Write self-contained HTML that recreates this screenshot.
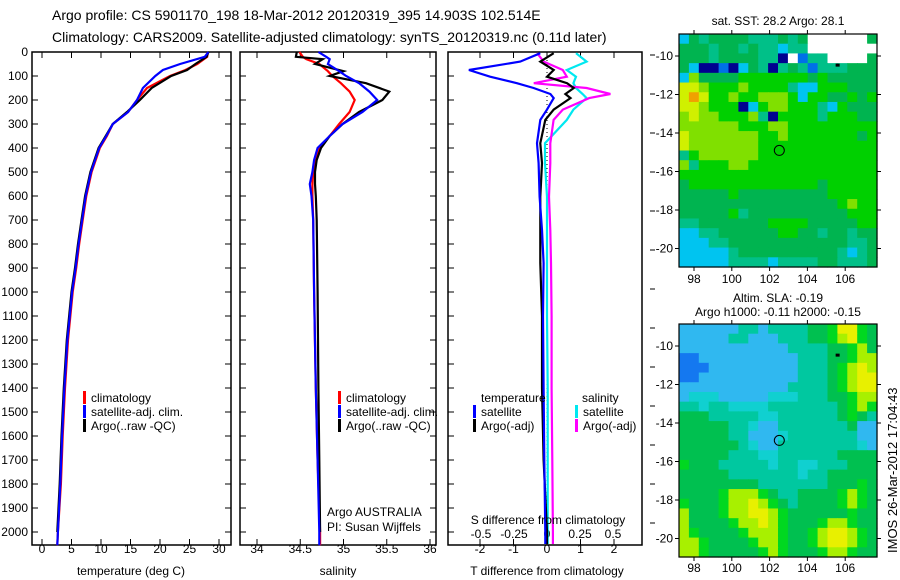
<!DOCTYPE html>
<html><head><meta charset="utf-8"><style>
html,body{margin:0;padding:0;background:#fff;}
svg{display:block;font-family:"Liberation Sans",sans-serif;}
</style></head><body>
<svg id="fig" width="900" height="580" viewBox="0 0 900 580" xmlns="http://www.w3.org/2000/svg">
<text x="52" y="20" font-size="14">Argo profile: CS 5901170_198 18-Mar-2012 20120319_395 14.903S 102.514E</text>
<text x="52" y="42" font-size="14">Climatology: CARS2009. Satellite-adjusted climatology: synTS_20120319.nc (0.11d later)</text>
</svg>
<script>
// ---------- data ----------
const tDepth = [0,20,50,75,100,150,200,250,300,350,400,500,600,700,800,900,1000,1200,1400,1600,1800,2000,2055];
const tClim  = [28.1,28.0,26.3,24.3,21.7,17.8,16.1,14.6,12.0,11.0,9.8,8.4,7.5,6.9,6.3,5.8,5.2,4.4,3.9,3.5,3.2,2.7,2.6];
const tSat   = [28.2,27.6,23.4,20.5,19.2,17.1,16.1,14.6,12.0,10.9,9.7,8.3,7.4,6.8,6.2,5.7,5.1,4.3,3.8,3.4,3.1,2.7,2.6];
const tArgo  = [28.2,27.9,26.0,24.6,21.9,18.6,16.6,14.4,12.0,10.8,9.6,8.2,7.3,6.7,6.1,5.6,5.0,4.2,3.7,3.3,3.0,2.6];
const sDepth = [0,20,30,50,80,100,130,165,200,250,300,350,400,450,500,550,600,700,1000,1400,1700,2000,2055];
const sClim  = [34.49,34.53,34.57,34.72,34.82,34.87,34.97,35.07,35.13,35.07,34.95,34.84,34.72,34.67,34.65,34.64,34.64,34.65,34.66,34.68,34.70,34.73,34.73];
const sSat   = [34.71,34.80,34.84,34.82,34.95,35.03,35.18,35.30,35.39,35.22,34.99,34.84,34.70,34.66,34.64,34.61,34.63,34.65,34.66,34.68,34.70,34.72,34.72];
const sArgo  = [34.46,34.45,34.76,34.67,35.00,34.84,35.26,35.53,35.45,35.18,34.99,34.84,34.74,34.69,34.67,34.67,34.68,34.69,34.70,34.71,34.72,34.73];
const dDepth = [5,40,75,103,130,150,175,192,240,283,380,463,603,742,880,1100,1400,1700,2000,2050];
const dTSat  = [-0.2,-0.8,-2.33,-1.7,-0.9,-0.4,0.1,0.2,0.0,-0.2,-0.3,-0.25,-0.22,-0.15,-0.1,-0.12,-0.1,-0.08,-0.05,-0.05];
const dTArgo = [0.2,-0.2,0.2,0.0,0.6,0.8,0.55,0.7,0.2,-0.05,-0.2,-0.15,-0.2,-0.2,-0.2,-0.15,-0.15,-0.1,0.0,0.0];
const dSSat  = [0.22,0.3,0.15,0.22,0.2,0.22,0.27,0.3,0.2,0.15,-0.015,-0.015,0.0,0.0,0.0,0.0,0.005,0.005,0.005,0.005];
const dSArgo = [-0.075,-0.025,0.12,0.15,-0.1,0.3,0.48,0.32,0.12,0.05,0.025,0.025,0.015,0.025,0.03,0.035,0.035,0.04,0.045,0.045];
const depthTicks = [0,100,200,300,400,500,600,700,800,900,1000,1100,1200,1300,1400,1500,1600,1700,1800,1900,2000];
const tTicks = [0,5,10,15,20,25,30];
const sTicks = [34,34.5,35,35.5,36];
const sTickLabels = ["34","34.5","35","35.5","36"];
const dTTicks = [-2,-1,0,1,2];
const dSTicks = [-0.5,-0.25,0,0.25,0.5];
const dSTickLabels = ["-0.5","-0.25","0","0.25","0.5"];
const lonTicks = [98,100,102,104,106];
const latTicks = [-10,-12,-14,-16,-18,-20];
const argoLon = 102.514, argoLat = -14.903;
const sstGrid = [
"CGTGGGGTTTGTGWWWWWWG","GGGTGGTGTTCTTWWWWWWW","GGGTGGGGTTNWBTTWWWWG","GCNNBNCGTNTGTBTTTGGG",
"CLGGGGgggggggGgGGGGG","YYLgggLggggTCCgggGGG","YOYggLggLLLgCggGGgGg","YYLgggNCgLLgggTCgGGG",
"LYLLgggLTNggggTgggGG","LLLLLLgggLLggggggggg","YLLLLLLLggLgggggggGg","YLLLLLLLgggggggggggg",
"TgLLLLLLgggggggggggg","LTgggLLggggggggggggg","gggggggggggggggggggg","GgggggggggggggGggggg",
"GGGGGgGGGGGGGGGggggg","GGGGGGGGGGGGGGGGgLgg","GGGGGgTGGGGGGGGGGggg","TTGGGGGGGggggGGGGGgg",
"CCTTGGGGGGggGGTGGTGG","CCCTTGGGGGGGGGGGGTTG","CCCCCTGGGGGGGGGGTCTG","CCCCCTTTTCTTTTGGTTTG"];
const slaGrid = [
"CCCCCCTTCTTTTGGgYYgG","CCCCCTTCCCTTTGGgLYgG","CCCCCCCCCCCTTTTGGgLG","aaCCCCCCCCCCTTTGGgLL",
"aaaCCCCCCCCCTTTGgLYL","aaCCCCCCCCCCTTTGgLYY","CCCCCCCCCCCTTTTGgLYY","CcccCCCCCcccTTTGGgLL",
"TTcTTccccTTTTTTTGgLg","GGGTTTTTccTTTTTTGgGT","GGGGGTTcCCTTTTTTTGCC","GGGGGTTCCCcTTTTTTTCC",
"GGGGGGTcCCTTTTTTTTcC","GGGGGTTTccTTTTTTGGGG","gGGGTTTTTcTTccTTTGGG","GGGGGTTTTTTTcTTGGGGG",
"GGGGGGGGTTTTTTTGGGgG","GGGGgLLLgGTTGGGGgLgG","gGGGgLLYLgGTGGGGgLgG","LGGGgLLYYLgGGGGGGgGG",
"LGGGGgLLYLgGGGgLLgGG","LgGGGGgLLLgGGgLYYLgG","LLgGGGGgLLgGGgLYYLgG","LLgGGGGGgLgGGGgLLgGG"];
const sstColors = {G:"#00b450",g:"#00d000",T:"#00c088",C:"#00c4f0",B:"#0070e8",N:"#000090",L:"#80e000",Y:"#d0f000",O:"#f0a000",W:"#ffffff"};
const slaColors = {a:"#1478f0",C:"#30b8f0",c:"#10d0d0",T:"#00c8a0",G:"#00c050",g:"#00d820",L:"#a8f000",Y:"#e8f000"};

// ---------- helpers ----------
const NS="http://www.w3.org/2000/svg";
const svg=document.getElementById('fig');
function mk(tag,attrs,parent){const e=document.createElementNS(NS,tag);for(const k in attrs)e.setAttribute(k,attrs[k]);(parent||svg).appendChild(e);return e;}
function txt(s,x,y,size,anchor,parent){const e=mk('text',{x:x,y:y,'font-size':size,'text-anchor':anchor||'start'},parent);e.textContent=s;return e;}
const yD = d => 52 + d*0.24;
const xT = t => 42 + t*5.9;
const xS = s => 257 + (s-34)*86.5;
const xDT = v => 547 + v*33.5;
const xDS = v => 547 + v*132;
const TOP=52, BOT=545;

function frame(x0,x1,name){
  const r=mk('rect',{x:x0,y:TOP,width:x1-x0,height:BOT-TOP,fill:'none',stroke:'#000','stroke-width':1.5});
  
  
}
function line(xs,ds,fx,color,name,w){
  const pts=xs.map((v,i)=>fx(v).toFixed(1)+','+yD(ds[i]).toFixed(1)).join(' ');
  const p=mk('polyline',{points:pts,fill:'none',stroke:color,'stroke-width':w||2.2,'stroke-linejoin':'miter'});
  
  
}
function xTicks(vals,labels,fx,ylab,name){
  const g=mk('g',{});
  
  
  vals.forEach((v,i)=>{const x=fx(v);
    mk('line',{x1:x,x2:x,y1:BOT,y2:BOT-6,stroke:'#000','stroke-width':1},g);
    mk('line',{x1:x,x2:x,y1:TOP,y2:TOP+6,stroke:'#000','stroke-width':1},g);
    if(ylab) txt(labels[i],x,ylab,12,'middle',g);
  });
}
function depthTickMarks(x0,x1){
  depthTicks.forEach(d=>{const y=yD(d);
    mk('line',{x1:x0,x2:x0+6,y1:y,y2:y,stroke:'#000','stroke-width':1});
    mk('line',{x1:x1,x2:x1-6,y1:y,y2:y,stroke:'#000','stroke-width':1});});
}
function legend(x,y,color,label,name){
  const g=mk('g',{});
  
  
  mk('rect',{x:x,y:y-11,width:3,height:13,fill:color},g);
  txt(label,x+8,y,12,'start',g);
}

// ---------- depth axis ----------
const dl=mk('g',{});


depthTicks.forEach(d=>txt(String(d),28,yD(d)+4,12,'end',dl));

// ---------- panel 1 temperature ----------
frame(32,231,'temperature-panel-frame');
depthTickMarks(32,231);
xTicks(tTicks,tTicks.map(String),xT,553,'temperature-x-ticks');
line(tClim,tDepth,xT,'#ff0000','temperature-climatology-line');
line(tArgo,tDepth.slice(0,tArgo.length),xT,'#000000','temperature-argo-line');
line(tSat,tDepth,xT,'#0000ff','temperature-satellite-line');
txt('temperature (deg C)',131,575,12,'middle');
legend(83,402,'#ff0000','climatology','legend-climatology-temp');
legend(83,416,'#0000ff','satellite-adj. clim.','legend-satellite-temp');
legend(83,430,'#000000','Argo(..raw -QC)','legend-argo-temp');

// ---------- panel 2 salinity ----------
frame(240,436,'salinity-panel-frame');
depthTickMarks(240,436);
xTicks(sTicks,sTickLabels,xS,553,'salinity-x-ticks');
line(sClim,sDepth,xS,'#ff0000','salinity-climatology-line');
line(sArgo,sDepth.slice(0,sArgo.length),xS,'#000000','salinity-argo-line');
line(sSat,sDepth,xS,'#0000ff','salinity-satellite-line');
txt('salinity',338,575,12,'middle');
legend(338,402,'#ff0000','climatology','legend-climatology-sal');
legend(338,416,'#0000ff','satellite-adj. clim.','legend-satellite-sal');
legend(338,430,'#000000','Argo(..raw -QC)','legend-argo-sal');
txt('Argo AUSTRALIA',327,516,12);
txt('PI: Susan Wijffels',327,531,12);

// ---------- panel 3 differences ----------
frame(448,642,'difference-panel-frame');
depthTicks.forEach(d=>{const y=yD(d);mk('line',{x1:448,x2:454,y1:y,y2:y,stroke:'#000'});});
[55,94,133,172,211,250,289,328,367,406,445,484,523].forEach(y=>mk('line',{x1:650,x2:655,y1:y,y2:y,stroke:'#000'}));
xTicks(dTTicks,dTTicks.map(String),xDT,553,'t-difference-x-ticks');
const sdl=mk('g',{});


dSTicks.forEach((v,i)=>txt(dSTickLabels[i],xDS(v),538,12,'middle',sdl));
const zl=mk('line',{x1:547,x2:547,y1:TOP,y2:BOT,stroke:'#000','stroke-width':1,'stroke-dasharray':'1,3'});


line(dSSat,dDepth,xDS,'#00e8f0','s-diff-satellite-line');
line(dSArgo,dDepth,xDS,'#ff00ff','s-diff-argo-line');
line(dTArgo,dDepth,xDT,'#000000','t-diff-argo-line');
line(dTSat,dDepth,xDT,'#0000ff','t-diff-satellite-line');
txt('T difference from climatology',547,575,12,'middle');
txt('S difference from climatology',548,524,12,'middle');
txt('temperature',481,402,12);
txt('salinity',582,402,12);
legend(473,416,'#0000ff','satellite','legend-t-satellite');
legend(473,430,'#000000','Argo(-adj)','legend-t-argo');
legend(575,416,'#00e8f0','satellite','legend-s-satellite');
legend(575,430,'#ff00ff','Argo(-adj)','legend-s-argo');

// ---------- maps ----------
const lonX = lon => 694 + (lon-98)*18.9;
function drawMap(grid,colors,top,name,labelY){
  const x0=679,x1=877,bot=top+233;
  const g=mk('g',{});
  
  
  const rows=grid.length, cols=grid[0].length;
  const cw=(x1-x0)/cols, ch=(bot-top)/rows;
  grid.forEach((row,r)=>{for(let c=0;c<cols;c++){
    const cell=mk('rect',{x:(x0+c*cw).toFixed(2),y:(top+r*ch).toFixed(2),width:(cw+0.6).toFixed(2),height:(ch+0.6).toFixed(2),fill:colors[row[c]]||'#00c050'},g);
    
    
  }});
  mk('rect',{x:x0,y:top,width:x1-x0,height:bot-top,fill:'none',stroke:'#000','stroke-width':1.2},g);
  const latY = lat => top+22 + (-10-lat)*19.25;
  lonTicks.forEach(l=>{const x=lonX(l);
    mk('line',{x1:x,x2:x,y1:bot,y2:bot+4,stroke:'#000'},g);
    mk('line',{x1:x,x2:x,y1:top,y2:top-4,stroke:'#000'},g);
    txt(String(l),x,labelY,12,'middle',g);});
  latTicks.forEach(l=>{const y=latY(l);
    mk('line',{x1:x0,x2:x0-4,y1:y,y2:y,stroke:'#000'},g);
    mk('line',{x1:x1,x2:x1+4,y1:y,y2:y,stroke:'#000'},g);
    txt(String(l),x0-6,y+4,12,'end',g);});
  const c=mk('circle',{cx:lonX(argoLon),cy:latY(argoLat),r:5,fill:'none',stroke:'#000','stroke-width':1},g);
  
  
  mk('rect',{x:lonX(105.6)-2,y:latY(-10.5)-2,width:4,height:3,fill:'#000'},g);
}
drawMap(sstGrid,sstColors,34,'sst-map',283);
drawMap(slaGrid,slaColors,324,'sla-map',572);
txt('sat. SST: 28.2 Argo: 28.1',778,25,12,'middle');
txt('Altim. SLA: -0.19',778,302,12,'middle');
txt('Argo h1000: -0.11 h2000: -0.15',778,316,12,'middle');
const imos=txt('IMOS 26-Mar-2012 17:04:43',0,0,13,'start');
imos.setAttribute('transform','translate(897,553) rotate(-90)');


</script>
</body></html>
